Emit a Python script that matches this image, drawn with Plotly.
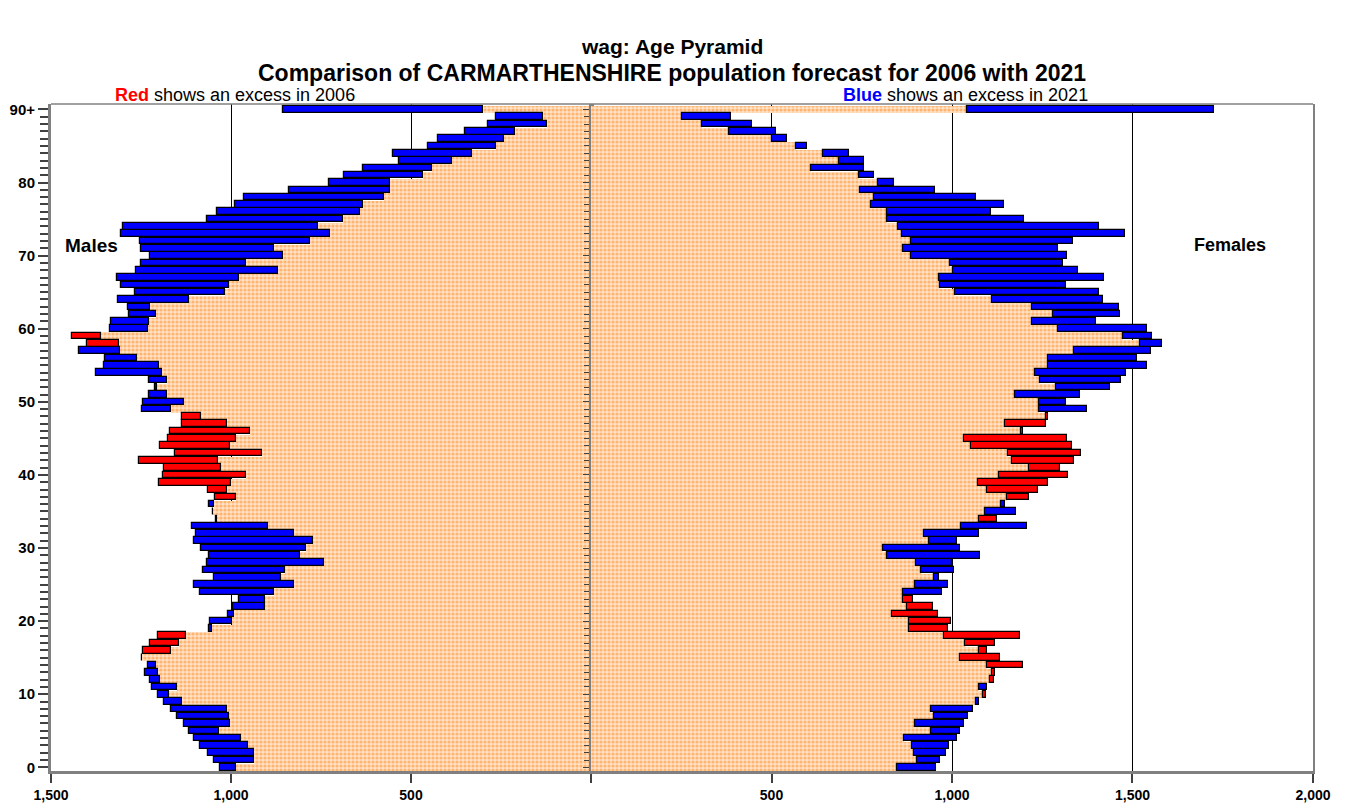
import plotly.graph_objects as go

# ---------------- data ----------------
ages = list(range(91))  # 0 .. 90 (90 = "90+")

male_2006 = [986, 936, 936, 953, 972, 1032, 1003, 1005, 1011, 1136,
             1172, 1150, 1197, 1202, 1208, 1247, 1245, 1225, 1202, 1053,
             996, 991, 905, 906, 880, 825, 861, 850, 742, 808,
             792, 772, 825, 898, 1043, 1049, 1048, 1045, 1065, 1200,
             1190, 1187, 1256, 1156, 1197, 1176, 1170, 1137, 1137, 1166,
             1130, 1177, 1205, 1178, 1191, 1200, 1261, 1309, 1400, 1442,
             1230, 1228, 1208, 1225, 1116, 1016, 1005, 978, 869, 958,
             855, 880, 781, 726, 758, 689, 643, 632, 575, 559,
             559, 467, 443, 385, 331, 263, 243, 210, 123, 132,
             301]
male_2021 = [1031, 1048, 1065, 1087, 1104, 1117, 1131, 1151, 1166, 1185,
             1203, 1220, 1226, 1238, 1231, 1247, 1166, 1145, 1126, 1062,
             1057, 1008, 995, 979, 1085, 1102, 1048, 1077, 1066, 1061,
             1082, 1103, 1098, 1107, 1039, 1051, 1062, 986, 1011, 1000,
             958, 1028, 1036, 914, 1003, 986, 947, 1011, 1083, 1246,
             1245, 1228, 1212, 1227, 1374, 1352, 1350, 1422, 1311, 1360,
             1336, 1332, 1284, 1287, 1315, 1267, 1305, 1317, 1263, 1249,
             1225, 1250, 1253, 1306, 1299, 1066, 1038, 990, 965, 838,
             728, 687, 633, 534, 551, 453, 426, 349, 285, 263,
             856]

female_2006 = [848, 904, 896, 890, 867, 941, 898, 949, 943, 1066,
               1094, 1076, 1117, 1118, 1198, 1132, 1098, 1120, 1189, 988,
               998, 960, 947, 893, 864, 898, 951, 914, 901, 821,
               808, 937, 922, 1025, 1126, 1092, 1135, 1213, 1239, 1265,
               1320, 1300, 1337, 1356, 1333, 1318, 1197, 1260, 1265, 1242,
               1242, 1174, 1287, 1243, 1229, 1265, 1266, 1337, 1520, 1473,
               1293, 1221, 1281, 1221, 1112, 1007, 967, 964, 1003, 994,
               886, 865, 887, 862, 850, 821, 821, 777, 783, 745,
               795, 742, 610, 687, 644, 567, 502, 381, 307, 251,
               1042]
female_2021 = [957, 967, 984, 992, 1014, 1021, 1032, 1043, 1058, 1074,
               1086, 1098, 1106, 1112, 1098, 1021, 1076, 1037, 979, 880,
               880, 835, 875, 863, 972, 990, 963, 1005, 999, 1077,
               1023, 1015, 1074, 1207, 1074, 1176, 1148, 1152, 1098, 1073,
               1131, 1214, 1167, 1156, 1054, 1032, 1190, 1146, 1260, 1373,
               1317, 1354, 1437, 1467, 1483, 1540, 1513, 1551, 1582, 1554,
               1540, 1400, 1466, 1462, 1417, 1408, 1315, 1420, 1350, 1308,
               1319, 1294, 1335, 1480, 1407, 1200, 1109, 1143, 1067, 954,
               840, 785, 755, 755, 715, 599, 543, 512, 447, 387,
               1727]

age_tick_vals = [0, 10, 20, 30, 40, 50, 60, 70, 80, 90]
age_tick_text = ["0", "10", "20", "30", "40", "50", "60", "70", "80", "90+"]
male_tick_vals = [0, 500, 1000, 1500]
male_tick_text = ["", "500", "1,000", "1,500"]
female_tick_vals = [0, 500, 1000, 1500, 2000]
female_tick_text = ["", "500", "1,000", "1,500", "2,000"]

# ---------------- styles ----------------
FONT = "Liberation Sans, Arial, Helvetica, sans-serif"
RED = "#FF0000"
BLUE = "#0000FF"
FRAME = "#808080"
TICK = "#404040"
pattern = dict(shape=".", fgcolor="#FFB46E", bgcolor="#FFE2C6", size=4, solidity=0.5,
               fillmode="replace")


def split(a06, a21):
    lo = [min(p, q) for p, q in zip(a06, a21)]
    diff = [abs(p - q) for p, q in zip(a06, a21)]
    cols = [RED if p > q else BLUE for p, q in zip(a06, a21)]
    return lo, diff, cols


m_lo, m_diff, m_col = split(male_2006, male_2021)
f_lo, f_diff, f_col = split(female_2006, female_2021)

fig = go.Figure()

# common part (orange checkered area)
fig.add_trace(go.Bar(y=ages, x=m_lo, base=0, orientation="h", width=1.0,
                     marker=dict(color="#FFE2C6", pattern=pattern, line=dict(width=0)),
                     xaxis="x", yaxis="y", showlegend=False, hoverinfo="skip"))
fig.add_trace(go.Bar(y=ages, x=f_lo, base=0, orientation="h", width=1.0,
                     marker=dict(color="#FFE2C6", pattern=pattern, line=dict(width=0)),
                     xaxis="x2", yaxis="y2", showlegend=False, hoverinfo="skip"))

# excess bars
fig.add_trace(go.Bar(y=ages, x=m_diff, base=m_lo, orientation="h", width=0.9,
                     marker=dict(color=m_col, line=dict(color="black", width=1.2)),
                     xaxis="x", yaxis="y", showlegend=False))
fig.add_trace(go.Bar(y=ages, x=f_diff, base=f_lo, orientation="h", width=0.9,
                     marker=dict(color=f_col, line=dict(color="black", width=1.2)),
                     xaxis="x2", yaxis="y2", showlegend=False))

split_x = 0.4279
yrange = [-0.5, 90.74]
tickfont = dict(family=FONT, size=14, color="black", weight="bold")

fig.update_layout(
    width=1345, height=809,
    margin=dict(l=51, r=32, t=104, b=38, autoexpand=False),
    paper_bgcolor="white", plot_bgcolor="white",
    barmode="overlay", bargap=0,
    showlegend=False,
    font=dict(family=FONT, color="black"),
    xaxis=dict(domain=[0, split_x], range=[1500, 0], anchor="y", automargin=False,
               tickvals=male_tick_vals, ticktext=male_tick_text,
               ticks="outside", ticklen=9, tickcolor=TICK, tickwidth=1.5,
               showline=True, linecolor=FRAME, linewidth=3,
               showgrid=True, gridcolor="black", gridwidth=1, zeroline=False,
               tickfont=tickfont, fixedrange=True),
    xaxis2=dict(domain=[split_x, 1], range=[0, 2000], anchor="y2", automargin=False,
                tickvals=female_tick_vals, ticktext=female_tick_text,
                ticks="outside", ticklen=9, tickcolor=TICK, tickwidth=1.5,
                showline=True, linecolor=FRAME, linewidth=3,
                showgrid=True, gridcolor="black", gridwidth=1, zeroline=False,
                tickfont=tickfont, fixedrange=True),
    yaxis=dict(range=yrange, anchor="x", automargin=False,
               tickvals=age_tick_vals, ticktext=age_tick_text,
               ticks="outside", ticklen=10, tickcolor=TICK, tickwidth=2,
               minor=dict(dtick=1, tick0=0, ticks="outside", ticklen=8, tickcolor=TICK, tickwidth=1.5),
               showline=True, linecolor=FRAME, linewidth=3, mirror="ticks",
               showgrid=False, zeroline=False,
               tickfont=dict(family=FONT, size=15, color="black", weight="bold"),
               fixedrange=True),
    yaxis2=dict(range=yrange, anchor="x2", matches="y", automargin=False,
                tickvals=age_tick_vals, showticklabels=False,
                ticks="outside", ticklen=6, tickcolor=TICK, tickwidth=1,
                minor=dict(dtick=1, tick0=0, ticks="outside", ticklen=5, tickcolor=TICK, tickwidth=1),
                showline=True, linecolor=FRAME, linewidth=2, mirror=True,
                showgrid=False, zeroline=False, fixedrange=True),
)

# thin top border
fig.add_shape(type="line", xref="paper", yref="paper", x0=0, x1=1, y0=1, y1=1,
              line=dict(color=FRAME, width=1.5))

ann = [
    dict(text="<b>wag: Age Pyramid</b>", x=0.4921, y=1.0855, size=21),
    dict(text="<b>Comparison of CARMARTHENSHIRE population forecast for 2006 with 2021</b>",
         x=0.4921, y=1.047, size=23),
    dict(text="<b><span style='color:#FF0000'>Red</span></b> shows an excess in 2006",
         x=0.1458, y=1.0135, size=18),
    dict(text="<b><span style='color:#0000FF'>Blue</span></b> shows an excess in 2021",
         x=0.7243, y=1.0135, size=18),
    dict(text="<b>Males</b>", x=0.0317, y=0.7886, size=19),
    dict(text="<b>Females</b>", x=0.9342, y=0.7886, size=18),
]
for a in ann:
    fig.add_annotation(text=a["text"], x=a["x"], y=a["y"], xref="paper", yref="paper",
                       xanchor="center", yanchor="middle", showarrow=False,
                       font=dict(family=FONT, size=a["size"], color="black"))

fig.write_html("out.html",
               config={"displayModeBar": False},
               post_script="document.body.style.margin='0';document.body.style.overflow='hidden';")
